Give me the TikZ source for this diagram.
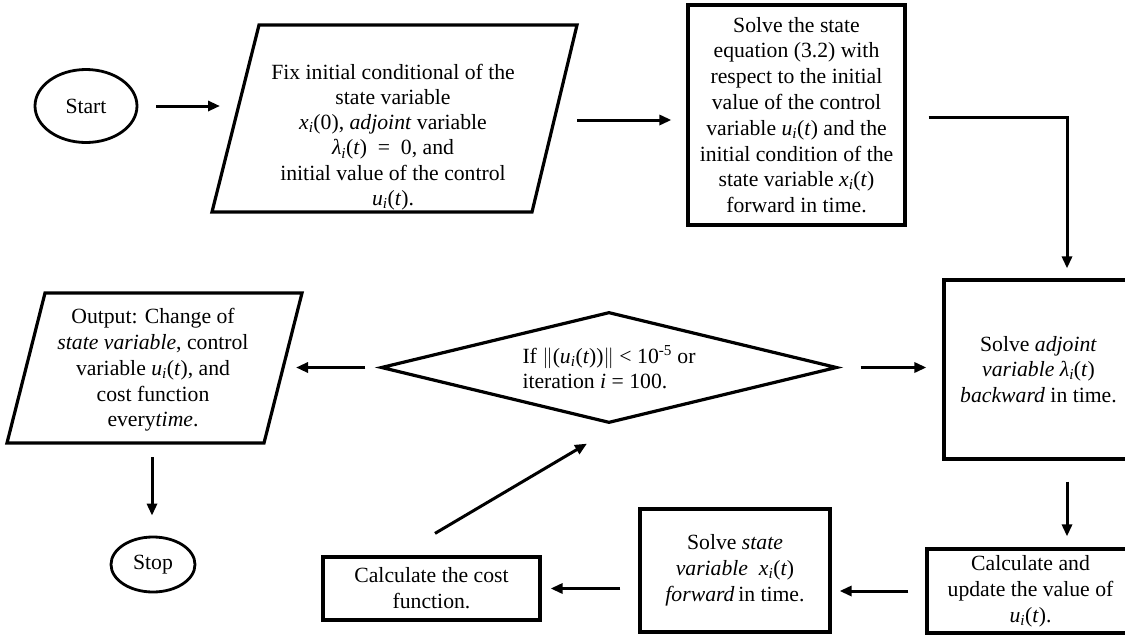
\documentclass[tikz,border=0pt]{standalone}
\usepackage{fontspec}
\setmainfont{Liberation Serif}
\usetikzlibrary{arrows.meta,shapes.geometric}
\newcommand{\mvar}[1]{\textit{#1}}
\newcommand{\isub}[1]{\textsubscript{\textit{#1}}}
\tikzset{
  txt/.style={font=\fontsize{21.7}{25.8}\selectfont, align=center, inner sep=0pt},
  boxnode/.style={txt, draw, line width=3.2pt, rectangle},
  oval/.style={txt, draw, line width=2.8pt, ellipse, inner sep=0pt},
  decision/.style={txt, draw, line width=3.2pt, diamond, aspect=4.1, inner sep=0pt, align=left},
  slanted/.style={line width=3.2pt, line join=miter},
  arr/.style={line width=3pt, -{Triangle[length=12pt,width=10pt]}},
}
\begin{document}
\begin{tikzpicture}[x=1pt,y=-1pt]
\useasboundingbox (0,0) rectangle (1125,635);
\clip (0,0) rectangle (1125,635);

% terminals
\node[oval, minimum width=102pt, minimum height=73pt] (start) at (86,106) {Start};
\node[oval, minimum width=84pt, minimum height=55pt] (stop) at (153,564.5) {Stop};

% input parallelogram
\draw[slanted] (259,25) -- (577,25) -- (532,212) -- (212,212) -- cycle;
\node[txt, font=\fontsize{21.7}{25.3}\selectfont] (fix) at (393,137) {Fix initial conditional of the\\ state variable\\ \mvar{x}\isub{i}(0), \textit{adjoint} variable\\ \mvar{λ}\isub{i}(\mvar{t})\ \ =\ \ 0, and\\ initial value of the control\\ \mvar{u}\isub{i}(\mvar{t}).};
\coordinate (fixL) at (238.6,106);
\coordinate (fixR) at (553,120);

% process boxes
\node[boxnode, minimum width=217pt, minimum height=220pt] (box2) at (796.5,115) {Solve the state\\ equation (3.2) with\\ respect to the initial\\ value of the control\\ variable \mvar{u}\isub{i}(\mvar{t}) and the\\ initial condition of the\\ state variable \mvar{x}\isub{i}(\mvar{t})\\ forward in time.};
\node[boxnode, minimum width=189pt, minimum height=179pt] (adj) at (1038.5,369.5) {Solve \textit{adjoint}\\ \textit{variable}\ \mvar{λ}\isub{i}(\mvar{t})\\ \textit{backward} in time.};
\node[boxnode, minimum width=207pt, minimum height=84pt] (cu) at (1030.5,591) {Calculate and\\ update the value of\\ \mvar{u}\isub{i}(\mvar{t}).};
\node[boxnode, minimum width=190pt, minimum height=123pt] (ss) at (735,570.5) {Solve \textit{state}\\ \textit{variable}\ \ \mvar{x}\isub{i}(\mvar{t})\\ \textit{forward}\,in time.};
\node[boxnode, minimum width=217pt, minimum height=63pt] (cc) at (431.5,588.5) {Calculate the cost\\ function.};

% decision
\node[decision, minimum width=456pt, minimum height=111pt] (dia) at (609,367.5) {If $\|$(\mvar{u}\isub{i}(\mvar{t}))$\|$ < 10\textsuperscript{-5} or\\ iteration \mvar{i} = 100.};

% output parallelogram
\draw[slanted] (45,293) -- (302,293) -- (264,443) -- (7,443) -- cycle;
\node[txt] (out) at (153,370) {Output: Change of\\ \textit{state variable}, control\\ variable \mvar{u}\isub{i}(\mvar{t}), and\\ cost function\\ every\textit{time}.};
\coordinate (outR) at (283,367.5);
\coordinate (outB) at (152,443);
\coordinate (col) at (1067,0);

% connectors
\draw[arr] ([xshift=18pt]start.east) -- ([xshift=-18.6pt]fixL);
\draw[arr] ([xshift=24pt]fixR) -- ([xshift=-15pt]box2.west |- fixR);
\draw[arr] ([xshift=22pt,yshift=-2pt]box2.east) -| ([yshift=10pt]adj.north -| col);
\draw[arr] ([xshift=22pt]dia.east) -- ([xshift=-16pt]adj.west |- dia.east);
\draw[arr] ([yshift=-21pt]adj.south -| col) -- ([yshift=11pt]cu.north -| col);
\draw[arr] ([xshift=-17pt]cu.west) -- ([xshift=8pt]ss.east |- cu.west);
\draw[arr] ([xshift=-18pt]ss.west |- cc.east) -- ([xshift=9pt]cc.east);
\draw[arr] ([xshift=3.5pt,yshift=22pt]cc.north) -- ([xshift=-22pt,yshift=-19pt]dia.south);
\draw[arr] ([xshift=-14pt]dia.west) -- ([xshift=13pt]outR);
\draw[arr] ([yshift=-14pt]outB) -- ([yshift=20pt]stop.north -| outB);
\end{tikzpicture}
\end{document}
